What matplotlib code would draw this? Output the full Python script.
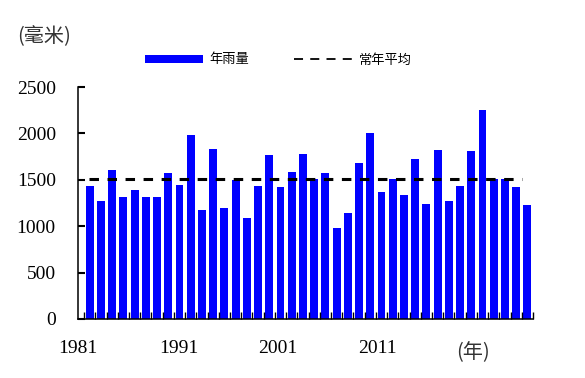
import numpy as np
import matplotlib.pyplot as plt
from matplotlib.patches import Patch
from matplotlib.lines import Line2D

years = list(range(1981, 2021))
rainfall = [1433, 1271, 1606, 1315, 1390, 1315, 1315, 1573, 1444, 1983,
            1175, 1832, 1196, 1498, 1088, 1433, 1767, 1422, 1584, 1778,
            1508, 1573, 983, 1142, 1681, 2004, 1368, 1505, 1336, 1724,
            1239, 1821, 1271, 1433, 1810, 2252, 1508, 1508, 1422, 1228]
normal = 1505
tick_labels = ['1981', '1991', '2001', '2011']
# label positions as they sit in the picture (not centred on bars)
tick_pos = [-1.05, 7.95, 16.75, 25.65]
y_ticks = [0, 500, 1000, 1500, 2000, 2500]

cjk = ['Noto Sans CJK SC', 'DejaVu Sans']
serif = 'Liberation Serif'

fig = plt.figure(figsize=(5.85, 3.78), dpi=100)
ax = fig.add_axes([0.1333, 0.1561, 0.7778, 0.6137])

x = np.arange(len(years))
ax.bar(x, rainfall, width=0.7, color='#0000ff', zorder=1)
ax.plot([-0.06, 38.5], [normal, normal], color='black', lw=2.2,
        dashes=(3.1, 2.8), zorder=3)

ax.set_xlim(-0.5, len(years) - 0.5)
ax.set_ylim(0, 2500)

ax.spines['top'].set_visible(False)
ax.spines['right'].set_visible(False)
ax.spines['left'].set_linewidth(1.1)
ax.spines['bottom'].set_linewidth(1.1)

ax.set_yticks(y_ticks)
ax.set_yticklabels([str(v) for v in y_ticks], fontfamily=serif, fontsize=14)
ax.tick_params(axis='y', direction='in', length=5, width=1.5, pad=16)

ax.set_xticks(tick_pos)
ax.set_xticklabels(tick_labels, fontfamily=serif, fontsize=14)
ax.set_xticks(np.arange(len(years) + 1) - 0.5, minor=True)
ax.tick_params(axis='x', which='major', length=0, pad=15)
ax.tick_params(axis='x', which='minor', direction='in', bottom=True,
               length=5, width=1)

fig.text(44 / 585, 1 - 37 / 378, '(毫米)', family=cjk, fontsize=14.5,
         color='#333333', ha='center', va='center')
fig.text(473 / 585, 1 - 353 / 378, '(年)', family=cjk, fontsize=14.5,
         color='#333333', ha='center', va='center')

handles = [Patch(facecolor='#0000ff', edgecolor='none'),
           Line2D([], [], color='black', lw=1.3, dashes=(5, 4))]
leg = fig.legend(handles, ['年雨量', '常年平均'], ncol=2, frameon=False,
                 loc='center left', bbox_to_anchor=(145 / 585, 1 - 60 / 378),
                 borderpad=0, borderaxespad=0, handlelength=4.4,
                 handleheight=0.55, handletextpad=0.5, columnspacing=3.4,
                 prop={'family': cjk, 'size': 9.5})

fig.savefig('out.png', dpi=100)
